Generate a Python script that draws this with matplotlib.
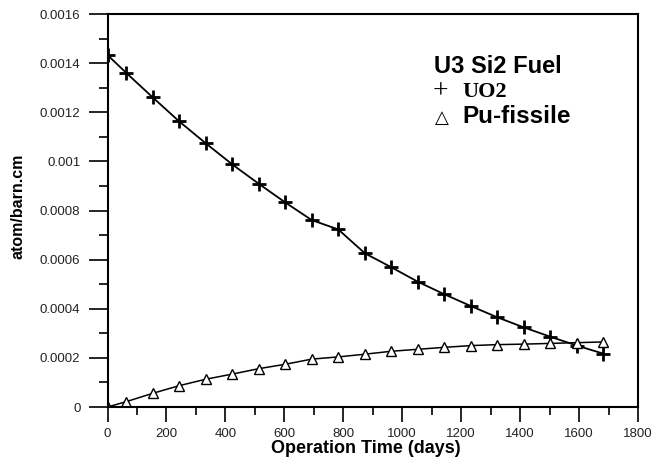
import numpy as np
import matplotlib.pyplot as plt
from matplotlib.ticker import MultipleLocator, FuncFormatter

# operation time (days) and atom densities (atom/barn.cm)
days = [0, 63, 153, 243, 333, 423, 513, 603, 693, 783,
        873, 963, 1053, 1143, 1233, 1323, 1413, 1503, 1593, 1683]
uo2 = [0.001433, 0.001361, 0.001261, 0.001163, 0.001074, 0.000988, 0.000909,
       0.000833, 0.000761, 0.000723, 0.000626, 0.000569, 0.000510, 0.000459,
       0.000411, 0.000365, 0.000324, 0.000286, 0.000250, 0.000217]
pu_fissile = [0.0, 0.0000216, 0.0000556, 0.0000868, 0.000113, 0.000134,
              0.000156, 0.000174, 0.000195, 0.000204, 0.000215, 0.000227,
              0.000235, 0.000243, 0.000250, 0.000254, 0.000256, 0.000259,
              0.000262, 0.000265]

sans = ['Liberation Sans', 'DejaVu Sans']
plt.rcParams['font.family'] = sans

fig = plt.figure(figsize=(6.54, 4.61), dpi=100)
ax = fig.add_axes([0.1644, 0.1171, 0.8111, 0.8525])

ax.plot(days, uo2, color='black', lw=1.3, marker='+', ms=10, mew=2.0)
ax.plot(days, pu_fissile, color='black', lw=1.1, marker='^', ms=7,
        mfc='white', mec='black', mew=1.0)

ax.set_xlim(0, 1800)
ax.set_ylim(0, 0.0016)
ax.xaxis.set_major_locator(MultipleLocator(200))
ax.xaxis.set_minor_locator(MultipleLocator(100))
ax.yaxis.set_major_locator(MultipleLocator(0.0002))
ax.yaxis.set_minor_locator(MultipleLocator(0.0001))
ax.yaxis.set_major_formatter(FuncFormatter(lambda v, p: ('%.4f' % v).rstrip('0').rstrip('.') if v else '0'))

for s in ax.spines.values():
    s.set_linewidth(1.5)

ax.tick_params(axis='y', which='major', direction='out', length=13.5, width=1.2,
               pad=6, labelsize=9.5, labelcolor='#222222')
ax.tick_params(axis='y', which='minor', direction='out', length=6.5, width=1.2)
ax.tick_params(axis='x', which='major', direction='out', length=11, width=1.2,
               pad=4, labelsize=9.5, labelcolor='#222222')
ax.tick_params(axis='x', which='minor', direction='out', length=6, width=1.2)

ax.set_xlabel('Operation Time (days)', fontsize=13, fontweight='bold')
ax.xaxis.set_label_coords(0.487, -0.085)
ax.set_ylabel('atom/barn.cm', fontsize=11.5, fontweight='bold')
ax.yaxis.set_label_coords(-0.155, 0.51)

# legend written as plain text block
fig.text(434 / 654, 1 - 73 / 461, 'U3 Si2 Fuel', fontsize=17, fontweight='bold',
         family=sans)
fig.text(433 / 654, 1 - 98 / 461, '+', fontsize=20, family='Liberation Serif')
fig.text(462 / 654, 1 - 97 / 461, 'UO2', fontsize=16, fontweight='bold',
         family='Liberation Serif')
fig.text(435 / 654, 1 - 123 / 461, '\u25b3', fontsize=13, family=['DejaVu Sans'])
fig.text(462 / 654, 1 - 123 / 461, 'Pu-fissile', fontsize=17.5, fontweight='bold',
         family=sans)

fig.savefig('out.png', dpi=100)
